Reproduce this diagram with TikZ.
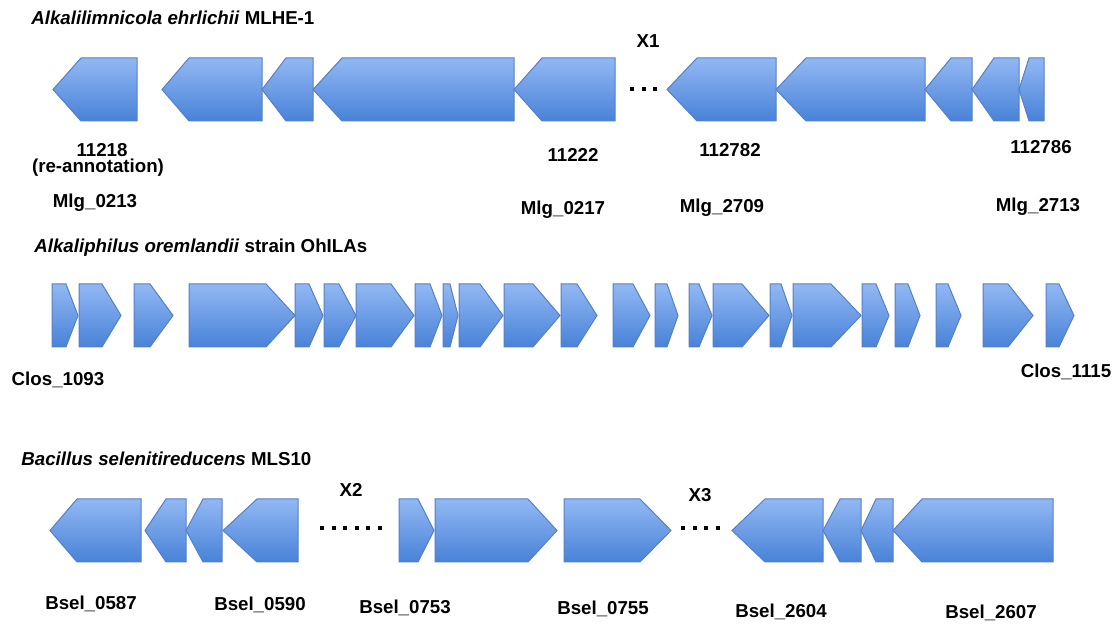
\documentclass[tikz,border=0pt]{standalone}
\usepackage{fontspec}
\setmainfont{Liberation Sans}
\usepackage{xcolor}
\usepackage{tikz}
\usetikzlibrary{positioning}

\definecolor{genetop}{RGB}{146,184,243}
\definecolor{genebot}{RGB}{72,130,216}
\definecolor{geneedge}{RGB}{86,128,196}

\begin{document}
\begin{tikzpicture}[x=0.5pt, y=-0.5pt,
  gene/.style={draw=geneedge, line width=0.5pt, top color=genetop, bottom color=genebot},
  species/.style={anchor=west, font=\fontsize{9.35}{11}\selectfont\bfseries, inner sep=0pt},
  lbl/.style={font=\fontsize{9.35}{11}\selectfont\bfseries, inner sep=0pt},
  gap/.style={line width=2pt, dash pattern=on 2pt off 3.75pt}
]
\useasboundingbox (0,0) rectangle (1119,624);

% row 1: genes pointing left (tip/shoulder/end)
\foreach \tp/\sh/\ed in {53/81/137, 162/189/262, 262/286/313, 313/342/514, 514/542/615,
    667/697/776, 776/806/925, 925/951/972, 972/994/1019, 1019/1029/1044}
  \draw[gene] (\tp,89.5) -- (\sh,58) -- (\ed,58) -- (\ed,121) -- (\sh,121) -- cycle;

% row 2: genes pointing right (start/shoulder/tip)
\foreach \st/\sh/\tp in {52/66/78, 79/102/121, 134/150/173, 189/266/295, 295/309/323,
    324/339/356, 356/391/414, 415/430/442, 443/450/458, 459/480/503, 504/533/560,
    561/577/597, 613/633/650, 655/667/678, 689/699/712, 713/742/769, 770/781/792,
    793/831/861, 862/876/889, 895/908/920, 936/948/961, 983/1008/1033, 1046/1059/1074}
  \draw[gene] (\st,284) -- (\sh,284) -- (\tp,315.5) -- (\sh,347) -- (\st,347) -- cycle;

% row 3
\foreach \tp/\sh/\ed in {50/77/141, 145/166/186, 186/203/222, 223/257/298,
    732/765/823, 823/840/861, 861/876/893, 893/922/1053}
  \draw[gene] (\tp,530.5) -- (\sh,499) -- (\ed,499) -- (\ed,562) -- (\sh,562) -- cycle;
\foreach \st/\sh/\tp in {399/418/434, 435/528/557, 564/640/671}
  \draw[gene] (\st,499) -- (\sh,499) -- (\tp,530.5) -- (\sh,562) -- (\st,562) -- cycle;

% titles
\node[species] (sp1) at (31,18) {\textit{Alkalilimnicola ehrlichii} MLHE-1};
\node[species] (sp2) at (34,248) {\textit{Alkaliphilus oremlandii} strain OhILAs};
\node[species] (sp3) at (21,459) {\textit{Bacillus selenitireducens} MLS10};

% row 1 labels
\node[lbl] (g11218) at (102,150) {11218};
\node[lbl] (reann) at (98,168) {(re-annotation)};
\node[lbl] (m0213) at (95,203) {Mlg\_0213};
\node[lbl] (g11222) at (573,155) {11222};
\node[lbl] (m0217) at (563,210) {Mlg\_0217};
\node[lbl] (g112782) at (730,150) {112782};
\node[lbl] (m2709) at (722,208) {Mlg\_2709};
\node[lbl] (g112786) at (1041,147) {112786};
\node[lbl] (m2713) at (1038,207) {Mlg\_2713};
\node[lbl] (x1) at (648,41) {X1};
\coordinate (d1a) at (630,89.5);
\coordinate (d1b) at (657,89.5);
\draw[gap] (d1a) -- (d1b);

% row 2 labels
\node[lbl] (c1093) at (58,380) {Clos\_1093};
\node[lbl] (c1115) at (1066,372) {Clos\_1115};

% row 3 labels
\node[lbl] (x2) at (351,490) {X2};
\node[lbl] (x3) at (700,495) {X3};
\coordinate (d2a) at (320,528);
\coordinate (d2b) at (381.5,528);
\coordinate (d3a) at (681,528);
\coordinate (d3b) at (719.5,528);
\draw[gap] (d2a) -- (d2b);
\draw[gap] (d3a) -- (d3b);
\node[lbl] (b0587) at (91,604) {Bsel\_0587};
\node[lbl] (b0590) at (260,605) {Bsel\_0590};
\node[lbl] (b0753) at (405,608) {Bsel\_0753};
\node[lbl] (b0755) at (603,609) {Bsel\_0755};
\node[lbl] (b2604) at (781,612) {Bsel\_2604};
\node[lbl] (b2607) at (991,613) {Bsel\_2607};
\end{tikzpicture}
\end{document}
